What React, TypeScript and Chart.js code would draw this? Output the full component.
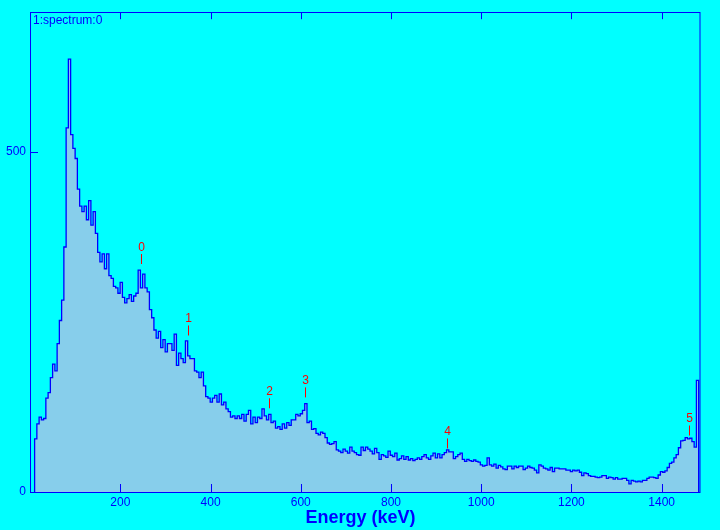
import React, { useEffect, useRef } from 'react';
import { Chart, registerables } from 'chart.js';

Chart.register(...registerables);

// ---- data ----
const BIN_START_KEV = 10;
const BIN_WIDTH_KEV = 4.99;
const COUNTS = [
  78, 100, 110, 106, 108, 138, 146, 168, 188, 178,
  218, 252, 282, 360, 535, 636, 525, 505, 490, 445,
  420, 412, 420, 400, 428, 392, 412, 380, 352, 338,
  350, 328, 350, 318, 314, 302, 300, 292, 308, 286,
  278, 284, 290, 280, 288, 292, 326, 300, 320, 300,
  294, 268, 256, 238, 226, 236, 212, 224, 206, 218,
  218, 208, 232, 186, 204, 196, 190, 222, 200, 196,
  196, 178, 176, 168, 176, 156, 140, 138, 132, 138,
  142, 132, 144, 128, 132, 122, 118, 110, 112, 108,
  112, 108, 114, 104, 114, 120, 100, 110, 102, 110,
  108, 122, 112, 106, 114, 102, 104, 94, 96, 92,
  100, 94, 102, 98, 106, 106, 114, 112, 115, 120,
  130, 102, 104, 92, 93, 86, 84, 88, 86, 80,
  72, 70, 71, 74, 62, 60, 58, 63, 60, 57,
  66, 60, 58, 55, 54, 66, 61, 66, 63, 60,
  56, 64, 58, 48, 55, 53, 51, 60, 54, 52,
  57, 47, 49, 53, 48, 52, 47, 49, 46, 48,
  50, 48, 52, 55, 50, 48, 53, 57, 50, 56,
  50, 55, 58, 62, 59, 59, 49, 52, 55, 57,
  48, 45, 48, 46, 45, 47, 45, 44, 40, 38,
  39, 50, 40, 38, 41, 35, 39, 37, 34, 33,
  38, 38, 34, 38, 36, 38, 38, 33, 35, 38,
  36, 35, 32, 28, 40, 38, 35, 34, 32, 36,
  30, 35, 35, 34, 34, 34, 32, 32, 30, 32,
  31, 32, 29, 24, 28, 27, 24, 23, 23, 22,
  21, 22, 24, 24, 20, 22, 21, 19, 21, 19,
  19, 20, 20, 17, 12, 17, 16, 15, 16, 15,
  17, 17, 20, 22, 22, 21, 20, 25, 30, 29,
  31, 36, 42, 44, 50, 55, 65, 75, 76, 80,
  78, 79, 74, 66, 164,
];
const X_TICKS = [200, 400, 600, 800, 1000, 1200, 1400];
const Y_TICKS = [0, 500];
const PEAK_LABELS = ['0', '1', '2', '3', '4', '5'];
const PEAK_ENERGIES = [246, 350, 530, 610, 925, 1461];
const PEAK_MARKER_COUNTS = [335, 230, 123, 139, 64, 83];
const HIST_NAME = '1:spectrum:0';
const X_TITLE = 'Energy (keV)';

// ---- style ----
const CYAN = '#00ffff';
const BLUE = '#0000ff';
const LINE_BLUE = '#0000ff';
const FILL = '#87ceeb';
const RED = '#ff0000';
const FONT = "'Liberation Sans', Arial, Helvetica, sans-serif";

const decorPlugin = {
  id: 'spectrumDecor',
  beforeDraw(chart: any) {
    const ctx = chart.ctx;
    ctx.save();
    ctx.fillStyle = CYAN;
    ctx.fillRect(0, 0, chart.width, chart.height);
    ctx.restore();
  },
  afterDatasetsDraw(chart: any) {
    const ctx = chart.ctx;
    const { left, right, top, bottom } = chart.chartArea;
    const xs = chart.scales.x;
    const ys = chart.scales.y;
    ctx.save();
    ctx.strokeStyle = BLUE;
    ctx.lineWidth = 1;
    // frame
    ctx.strokeRect(Math.round(left) - 0.5, Math.round(top) + 0.5, Math.round(right - left) + 0.5, Math.round(bottom - top));
    // ticks
    ctx.beginPath();
    X_TICKS.forEach((v) => {
      const px = Math.round(xs.getPixelForValue(v)) + 0.5;
      ctx.moveTo(px, bottom);
      ctx.lineTo(px, bottom - 8);
      ctx.moveTo(px, top);
      ctx.lineTo(px, top + 7);
    });
    Y_TICKS.forEach((v) => {
      const py = Math.round(ys.getPixelForValue(v)) + 0.5;
      ctx.moveTo(left, py);
      ctx.lineTo(left + 7, py);
    });
    ctx.stroke();

    // peak markers
    ctx.strokeStyle = RED;
    ctx.fillStyle = RED;
    ctx.font = `12px ${FONT}`;
    ctx.textAlign = 'center';
    ctx.textBaseline = 'alphabetic';
    PEAK_ENERGIES.forEach((e, i) => {
      const px = Math.round(xs.getPixelForValue(e)) + 0.5;
      const py = ys.getPixelForValue(PEAK_MARKER_COUNTS[i]);
      ctx.beginPath();
      ctx.moveTo(px, py);
      ctx.lineTo(px, py - 10);
      ctx.stroke();
      ctx.fillText(PEAK_LABELS[i], px, py - 13.5);
    });

    // texts
    ctx.fillStyle = BLUE;
    ctx.textAlign = 'left';
    ctx.font = `12px ${FONT}`;
    ctx.fillText(HIST_NAME, left + 2, top + 12);
    ctx.textAlign = 'center';
    ctx.font = `bold 18px ${FONT}`;
    ctx.fillText(X_TITLE, 360.5, chart.height - 7);
    ctx.restore();
  },
};

export default function App() {
  const ref = useRef<HTMLCanvasElement | null>(null);

  useEffect(() => {
    if (!ref.current) return;
    const end = BIN_START_KEV + COUNTS.length * BIN_WIDTH_KEV;
    const points = [
      { x: BIN_START_KEV, y: 0 },
      ...COUNTS.map((c, i) => ({ x: BIN_START_KEV + i * BIN_WIDTH_KEV, y: c })),
      { x: end, y: COUNTS[COUNTS.length - 1] },
      { x: end, y: 0 },
    ];
    const chart = new Chart(ref.current, {
      type: 'line',
      data: {
        datasets: [
          {
            data: points,
            stepped: 'before',
            borderColor: LINE_BLUE,
            borderWidth: 1.3,
            backgroundColor: FILL,
            fill: 'origin',
            pointRadius: 0,
            tension: 0,
          },
        ],
      },
      options: {
        animation: false,
        responsive: false,
        devicePixelRatio: 1,
        parsing: false,
        normalized: true,
        layout: { padding: { top: 10, right: 20, left: 0, bottom: 0 } },
        plugins: {
          legend: { display: false },
          tooltip: { enabled: false },
          title: { display: false },
        },
        scales: {
          x: {
            type: 'linear',
            min: 2,
            max: 1485,
            afterFit: (s: any) => {
              s.height = 38;
            },
            afterBuildTicks: (s: any) => {
              s.ticks = X_TICKS.map((v) => ({ value: v }));
            },
            ticks: {
              color: BLUE,
              font: { family: FONT, size: 12 },
              padding: 3,
              maxRotation: 0,
              autoSkip: false,
              callback: (v: any) => String(v),
            },
            grid: { display: false, drawTicks: false },
            border: { display: false },
          },
          y: {
            type: 'linear',
            min: 0,
            max: 705,
            afterFit: (s: any) => {
              s.width = 31;
            },
            afterBuildTicks: (s: any) => {
              s.ticks = Y_TICKS.map((v) => ({ value: v }));
            },
            ticks: {
              color: BLUE,
              font: { family: FONT, size: 12 },
              padding: 5,
              autoSkip: false,
              callback: (v: any) => String(v),
            },
            grid: { display: false, drawTicks: false },
            border: { display: false },
          },
        },
      },
      plugins: [decorPlugin],
    } as any);
    return () => chart.destroy();
  }, []);

  return (
    <div style={{ position: 'fixed', left: 0, top: 0, width: 720, height: 530, background: CYAN }}>
      <canvas ref={ref} width={720} height={530} style={{ display: 'block' }} />
    </div>
  );
}
